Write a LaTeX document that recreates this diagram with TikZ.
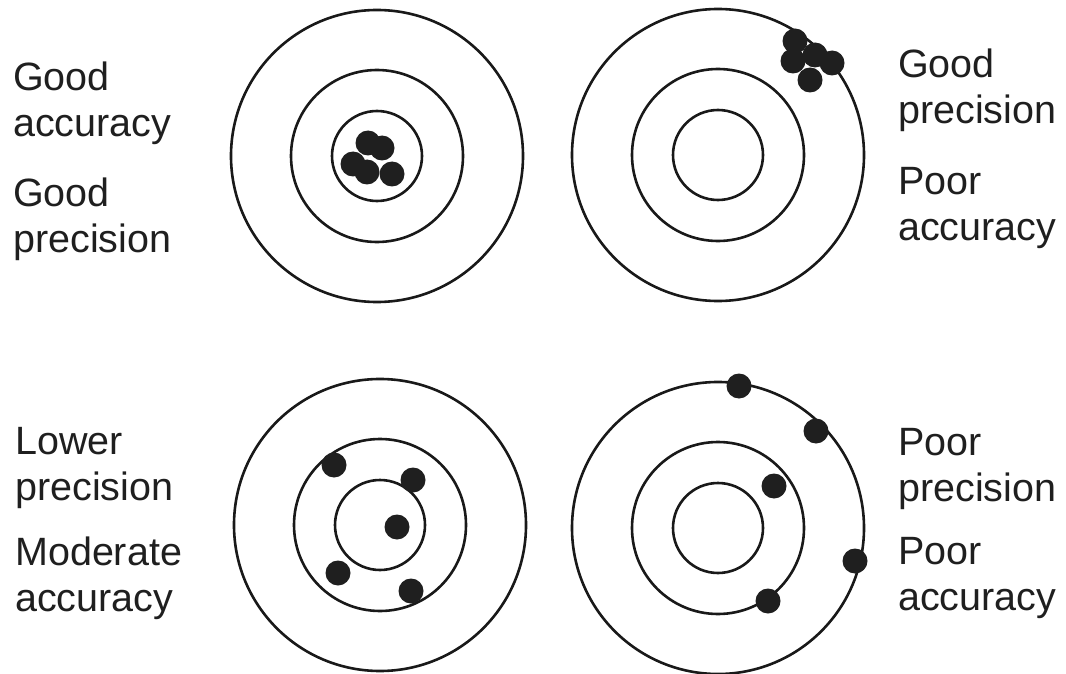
\documentclass[tikz,border=0pt]{standalone}
\usepackage{fontspec}
\setmainfont{Liberation Sans}
\begin{document}
\begin{tikzpicture}[x=1pt,y=-1pt,
  ring/.style={draw=black!90, line width=2.6pt},
  shot/.style={fill=black!88},
  lbl/.style={anchor=base west, align=left, inner sep=0pt, text=black!88,
    font=\fontsize{39.5}{46}\selectfont}]
\useasboundingbox (0,0) rectangle (1066,674);
% targets
\foreach \n/\cx/\cy in {A/377/156, B/718/155, C/380/525, D/718/528}{
  \coordinate (\n) at (\cx,\cy);
  \draw[ring] (\n) circle[radius=146];
  \draw[ring] (\n) circle[radius=86];
  \draw[ring] (\n) circle[radius=45];
}
% shots
\foreach \x/\y in {368/143, 382/148, 353/164, 367/172, 392/174}
  \fill[shot] (\x,\y) circle[radius=12.5];
\foreach \x/\y in {795/41, 793/61, 815/55, 832/63, 810/80}
  \fill[shot] (\x,\y) circle[radius=12.5];
\foreach \x/\y in {334/465, 413/480, 397/527, 338/573, 411/591}
  \fill[shot] (\x,\y) circle[radius=12.5];
\foreach \x/\y in {739/386, 816/431, 774/486, 855/561, 768/601}
  \fill[shot] (\x,\y) circle[radius=12.5];
% labels (anchor = baseline of the last line)
\node[lbl] (t1) at (13,137) {Good\\accuracy};
\node[lbl] (t2) at (13,252) {Good\\precision};
\node[lbl] (t3) at (898,124) {Good\\precision};
\node[lbl] (t4) at (898,240) {Poor\\accuracy};
\node[lbl] (t5) at (15,500) {Lower\\precision};
\node[lbl] (t6) at (15,611) {Moderate\\accuracy};
\node[lbl] (t7) at (898,501) {Poor\\precision};
\node[lbl] (t8) at (898,610) {Poor\\accuracy};
\end{tikzpicture}
\end{document}
